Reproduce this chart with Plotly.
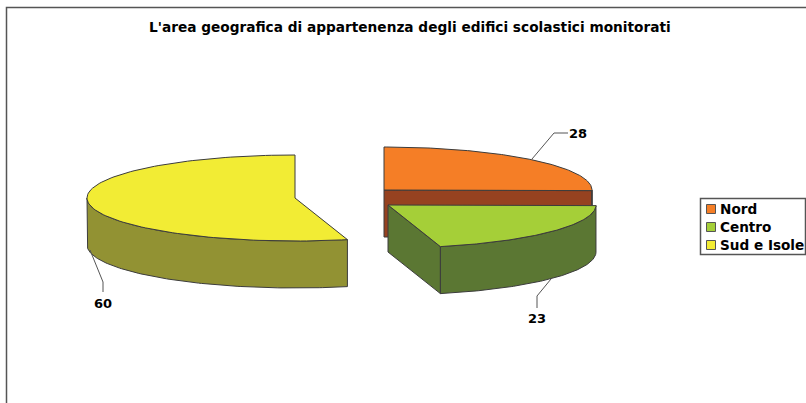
import numpy as np
import plotly.graph_objects as go

title = "L'area geografica di appartenenza degli edifici scolastici monitorati"
categories = ["Nord", "Centro", "Sud e Isole"]
values = [28, 23, 60]
top_colors = ["#F57E26", "#A5CF38", "#F2EC34"]
side_colors = ["#964220", "#5B7733", "#929233"]

# slice layout (pixel-sized axes)
centers = {"Nord": (384, 190), "Centro": (388, 205), "Sud e Isole": (295, 198)}
RX, RY, DEPTH = 208, 43, 47
FONT = "DejaVu Sans"

total = sum(values)
angles = np.cumsum([0] + [v / total * 360 for v in values])
spans = {c: (angles[i], angles[i + 1]) for i, c in enumerate(categories)}


def rim(c, a0, a1, dy=0):
    t = np.radians(np.linspace(a0, a1, 120))
    cx, cy = centers[c]
    return cx + RX * np.sin(t), cy - RY * np.cos(t) + dy


fig = go.Figure()
EDGE = dict(color="#3c3c3c", width=1)


def poly(x, y, color):
    fig.add_trace(go.Scatter(x=list(x) + [x[0]], y=list(y) + [y[0]], mode="lines",
                             fill="toself", fillcolor=color, line=EDGE,
                             showlegend=False, hoverinfo="skip"))


def slice3d(c, radial_faces):
    i = categories.index(c)
    a0, a1 = spans[c]
    cx, cy = centers[c]
    # radial cut faces
    for a in radial_faces:
        x, y = rim(c, a, a, 0)
        px, py = x[0], y[0]
        poly([cx, px, px, cx], [cy, py, py + DEPTH, cy + DEPTH], side_colors[i])
    # outer wall: only the visible (front) part
    lo, hi = max(a0, 90), min(a1, 270)
    if lo < hi:
        x, y = rim(c, lo, hi)
        poly(np.r_[x, x[::-1]], np.r_[y, (y + DEPTH)[::-1]], side_colors[i])
    # top face
    x, y = rim(c, a0, a1)
    poly(np.r_[cx, x], np.r_[cy, y], top_colors[i])


slice3d("Nord", [spans["Nord"][1]])
slice3d("Sud e Isole", [])
slice3d("Centro", [spans["Centro"][1]])

# leader lines and value labels
label_pos = {"Nord": [(532, 159), (554, 133), (568, 133)],
             "Centro": [(551, 279), (537, 296), (537, 308)],
             "Sud e Isole": [(90, 250), (103, 282), (103, 292)]}
text_pos = {"Nord": (578, 133), "Centro": (537, 318), "Sud e Isole": (103, 303)}
for c, v in zip(categories, values):
    pts = label_pos[c]
    fig.add_trace(go.Scatter(x=[p[0] for p in pts], y=[p[1] for p in pts], mode="lines",
                             line=dict(color="#555555", width=1),
                             showlegend=False, hoverinfo="skip"))
    fig.add_annotation(x=text_pos[c][0], y=text_pos[c][1], text=f"<b>{v}</b>", showarrow=False,
                       font=dict(family=FONT, size=13, color="#000000"))

# frame
fig.add_shape(type="path", path="M 6.5 403 L 6.5 7.5 L 806 7.5", line=dict(color="#555555", width=1.5))

# legend box
fig.add_shape(type="rect", x0=700.5, x1=805.5, y0=198.5, y1=254.5, layer="below",
              line=dict(color="#555555", width=1.5), fillcolor="white")
leg_y = [209, 227, 245]
for c, col, y in zip(categories, top_colors, leg_y):
    fig.add_trace(go.Scatter(x=[711], y=[y], mode="markers", name=c,
                             marker=dict(symbol="square", size=9, color=col,
                                         line=dict(color="#555555", width=1)),
                             showlegend=False, hoverinfo="skip"))
    fig.add_annotation(x=719, y=y, text=f"<b>{c}</b>", showarrow=False, xanchor="left",
                       xshift=0, borderpad=0, font=dict(family=FONT, size=13.6, color="#000000"))

fig.add_annotation(x=410, y=27, text=f"<b>{title}</b>", showarrow=False,
                   font=dict(family=FONT, size=13.7, color="#000000"))

fig.update_layout(
    width=806, height=403, margin=dict(l=0, r=0, t=0, b=0),
    paper_bgcolor="white", plot_bgcolor="white", showlegend=False,
    xaxis=dict(range=[0, 806], visible=False, fixedrange=True),
    yaxis=dict(range=[403, 0], visible=False, fixedrange=True),
)
fig.write_html("out.html", config={"displayModeBar": False},
               post_script="document.body.style.margin='0';document.documentElement.style.overflow='hidden';")
